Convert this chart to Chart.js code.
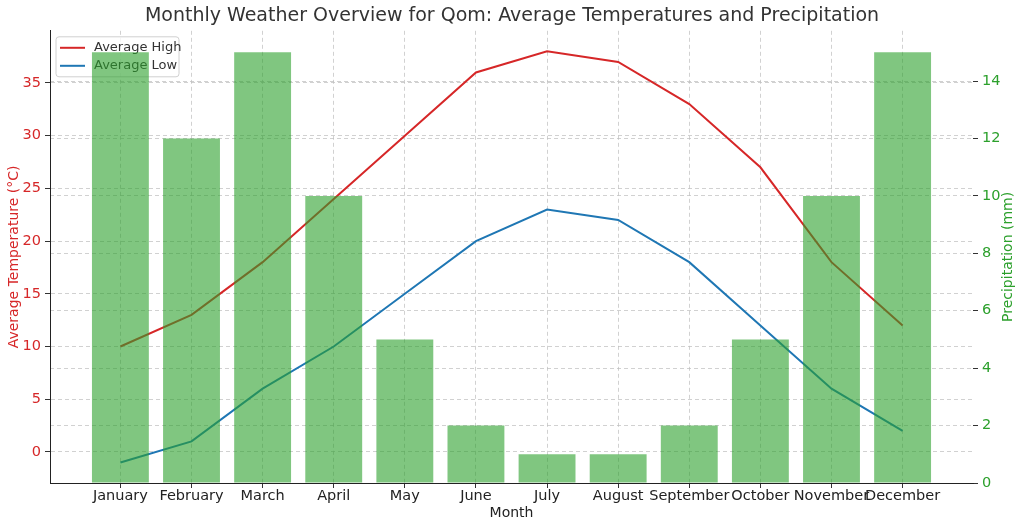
<!DOCTYPE html>
<html>
<head>
<meta charset="utf-8">
<script src="https://cdn.jsdelivr.net/npm/chart.js@4/dist/chart.umd.min.js"></script>
<style>
  html, body { margin: 0; padding: 0; background: #fff; }
</style>
</head>
<body>
<canvas id="chart" width="1024" height="529"></canvas>
<script>
var months = ['January', 'February', 'March', 'April', 'May', 'June', 'July',
              'August', 'September', 'October', 'November', 'December'];
var avgHigh = [10, 13, 18, 24, 30, 36, 38, 37, 33, 27, 18, 12];
var avgLow = [-1, 1, 6, 10, 15, 20, 23, 22, 18, 12, 6, 2];
var precip = [15, 12, 15, 10, 5, 2, 1, 1, 2, 5, 10, 15];
var tempTicks = [0, 5, 10, 15, 20, 25, 30, 35];
var precipTicks = [0, 2, 4, 6, 8, 10, 12, 14];

var RED = '#d62728', BLUE = '#1f77b4', GREEN = '#2ca02c';
var FONT = 'DejaVu Sans';
var gridColor = 'rgba(190,190,190,0.7)';

function points(values) {
  return values.map(function (v, i) { return { x: i, y: v }; });
}

// legend sits inside the plot, drawn before the datasets so bars cover it (as in the reference)
var legendInside = {
  id: 'legendInside',
  beforeDatasetsDraw: function (chart) {
    var ctx = chart.ctx, a = chart.chartArea;
    var x = a.left + 6, y = a.top + 6, w = 123, h = 40, r = 3;
    ctx.save();
    ctx.beginPath();
    ctx.moveTo(x + r, y);
    ctx.arcTo(x + w, y, x + w, y + h, r);
    ctx.arcTo(x + w, y + h, x, y + h, r);
    ctx.arcTo(x, y + h, x, y, r);
    ctx.arcTo(x, y, x + w, y, r);
    ctx.closePath();
    ctx.fillStyle = 'rgba(255,255,255,0.8)';
    ctx.fill();
    ctx.strokeStyle = '#d0d0d0';
    ctx.lineWidth = 1;
    ctx.stroke();

    var items = [['Average High', RED], ['Average Low', BLUE]];
    ctx.font = '13px "' + FONT + '"';
    ctx.textBaseline = 'middle';
    items.forEach(function (it, i) {
      var ly = y + 11 + i * 18;
      ctx.strokeStyle = it[1];
      ctx.lineWidth = 2;
      ctx.beginPath();
      ctx.moveTo(x + 4, ly);
      ctx.lineTo(x + 29, ly);
      ctx.stroke();
      ctx.fillStyle = '#333';
      ctx.fillText(it[0], x + 38, ly);
    });
    ctx.restore();
  }
};

// right axis title reads bottom-to-top like the reference
var rightTitle = {
  id: 'rightTitle',
  afterDraw: function (chart) {
    var ctx = chart.ctx, a = chart.chartArea;
    ctx.save();
    ctx.translate(1008, (a.top + a.bottom) / 2);
    ctx.rotate(-Math.PI / 2);
    ctx.font = '14px "' + FONT + '"';
    ctx.fillStyle = GREEN;
    ctx.textAlign = 'center';
    ctx.textBaseline = 'middle';
    ctx.fillText('Precipitation (mm)', 0, 0);
    ctx.restore();
  }
};

var ctx = document.getElementById('chart');

var myChart = new Chart(ctx, {
  type: 'bar',
  data: {
    datasets: [{
      type: 'bar',
      label: 'Precipitation',
      data: points(precip),
      backgroundColor: 'rgba(44,160,44,0.6)',
      borderWidth: 0,
      categoryPercentage: 0.8,
      barPercentage: 1,
      xAxisID: 'x',
      yAxisID: 'y1',
      order: 0
    }, {
      type: 'line',
      label: 'Average High',
      data: points(avgHigh),
      borderColor: RED,
      borderWidth: 2,
      pointRadius: 0,
      tension: 0,
      fill: false,
      xAxisID: 'x',
      yAxisID: 'y',
      order: 1
    }, {
      type: 'line',
      label: 'Average Low',
      data: points(avgLow),
      borderColor: BLUE,
      borderWidth: 2,
      pointRadius: 0,
      tension: 0,
      fill: false,
      xAxisID: 'x',
      yAxisID: 'y',
      order: 2
    }]
  },
  options: {
    responsive: false,
    animation: false,
    devicePixelRatio: 1,
    layout: { padding: 0 },
    plugins: {
      legend: { display: false },
      tooltip: { enabled: false },
      title: {
        display: true,
        text: 'Monthly Weather Overview for Qom: Average Temperatures and Precipitation',
        color: '#333',
        font: { family: FONT, size: 19, weight: 'normal' },
        padding: { top: 5, bottom: 3 }
      }
    },
    scales: {
      x: {
        type: 'linear',
        offset: false,
        min: -0.99,
        max: 11.99,
        afterBuildTicks: function (scale) {
          scale.ticks = months.map(function (m, i) { return { value: i }; });
        },
        afterFit: function (scale) { scale.height = 46; },
        ticks: {
          autoSkip: false,
          maxRotation: 0,
          padding: 0,
          color: '#222',
          font: { family: FONT, size: 14.5 },
          callback: function (v) { return months[v]; }
        },
        grid: {
          offset: false,
          color: gridColor,
          tickColor: '#333',
          tickLength: 5
        },
        border: { display: true, color: '#222', width: 1, dash: [4, 3] },
        title: {
          display: true,
          text: 'Month',
          color: '#222',
          font: { family: FONT, size: 14 },
          padding: { top: 0, bottom: 7 }
        }
      },
      y: {
        position: 'left',
        min: -2.95,
        max: 39.95,
        afterBuildTicks: function (scale) {
          scale.ticks = tempTicks.map(function (v) { return { value: v }; });
        },
        afterFit: function (scale) { scale.width = 50; },
        ticks: {
          color: RED,
          padding: 4,
          font: { family: FONT, size: 14.5 }
        },
        grid: {
          color: gridColor,
          tickColor: '#333',
          tickLength: 5
        },
        border: { display: true, color: '#222', width: 1, dash: [4, 3] },
        title: {
          display: true,
          text: 'Average Temperature (°C)',
          color: RED,
          font: { family: FONT, size: 14 },
          padding: { top: 6, bottom: 0 }
        }
      },
      y1: {
        position: 'right',
        min: 0,
        max: 15.75,
        afterBuildTicks: function (scale) {
          scale.ticks = precipTicks.map(function (v) { return { value: v }; });
        },
        afterFit: function (scale) { scale.width = 51; },
        ticks: {
          color: GREEN,
          padding: 4,
          font: { family: FONT, size: 14.5 }
        },
        grid: {
          color: gridColor,
          tickColor: '#333',
          tickLength: 5
        },
        border: { display: false, dash: [4, 3] },
        title: { display: false }
      }
    }
  },
  plugins: [legendInside, rightTitle]
});
</script>
</body>
</html>
